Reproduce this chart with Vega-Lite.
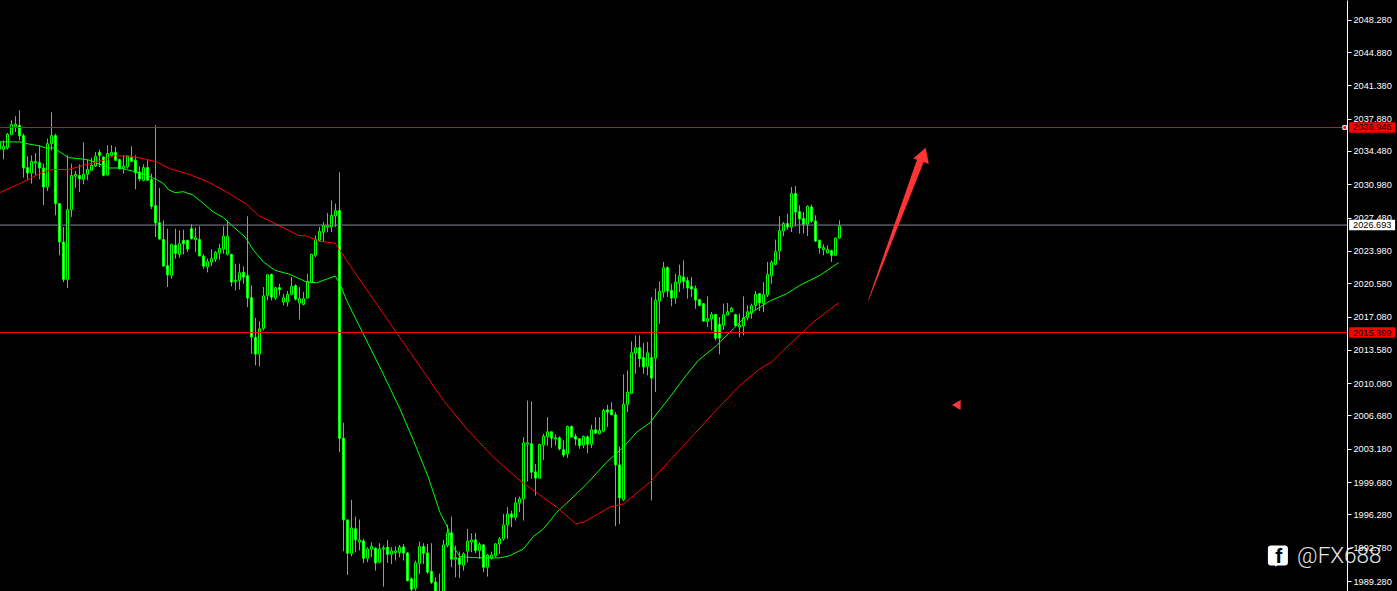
{"$schema":"https://vega.github.io/schema/vega-lite/v6.json","width":1397,"height":591,"autosize":"none","padding":0,"background":"#000000","config":{"view":{"stroke":null}},
"datasets":{
"candles":[
{"t":-1,"o":2034.66,"h":2035.60,"l":2034.55,"c":2035.43},
{"t":0,"o":2034.66,"h":2035.60,"l":2033.60,"c":2034.97},
{"t":1,"o":2034.80,"h":2036.37,"l":2034.62,"c":2036.23},
{"t":2,"o":2036.20,"h":2037.71,"l":2036.13,"c":2037.25},
{"t":3,"o":2037.08,"h":2038.13,"l":2036.48,"c":2037.29},
{"t":4,"o":2037.15,"h":2038.76,"l":2035.60,"c":2036.06},
{"t":5,"o":2036.09,"h":2036.30,"l":2031.68,"c":2032.69},
{"t":6,"o":2032.73,"h":2033.92,"l":2031.40,"c":2032.17},
{"t":7,"o":2032.17,"h":2034.02,"l":2031.05,"c":2033.39},
{"t":8,"o":2033.22,"h":2034.27,"l":2031.92,"c":2033.39},
{"t":9,"o":2033.25,"h":2035.08,"l":2031.50,"c":2032.69},
{"t":10,"o":2032.69,"h":2033.15,"l":2028.77,"c":2030.69},
{"t":11,"o":2030.69,"h":2035.78,"l":2030.27,"c":2035.25},
{"t":12,"o":2035.25,"h":2038.55,"l":2034.55,"c":2036.09},
{"t":13,"o":2036.09,"h":2036.30,"l":2027.71,"c":2028.94},
{"t":14,"o":2028.94,"h":2029.01,"l":2023.51,"c":2024.91},
{"t":15,"o":2024.91,"h":2026.49,"l":2020.70,"c":2020.98},
{"t":16,"o":2020.98,"h":2034.02,"l":2020.07,"c":2028.31},
{"t":17,"o":2028.31,"h":2033.15,"l":2027.54,"c":2031.89},
{"t":18,"o":2031.82,"h":2032.38,"l":2030.62,"c":2032.03},
{"t":19,"o":2031.89,"h":2033.08,"l":2030.17,"c":2031.54},
{"t":20,"o":2031.50,"h":2035.39,"l":2030.97,"c":2032.03},
{"t":21,"o":2032.03,"h":2033.57,"l":2031.40,"c":2032.55},
{"t":22,"o":2032.45,"h":2033.78,"l":2032.38,"c":2032.97},
{"t":23,"o":2032.90,"h":2034.38,"l":2032.80,"c":2033.92},
{"t":24,"o":2034.34,"h":2034.62,"l":2032.80,"c":2034.02},
{"t":25,"o":2033.85,"h":2033.92,"l":2031.82,"c":2031.92},
{"t":26,"o":2031.96,"h":2035.08,"l":2031.89,"c":2034.20},
{"t":27,"o":2034.02,"h":2035.08,"l":2033.92,"c":2034.34},
{"t":28,"o":2034.34,"h":2034.90,"l":2033.50,"c":2033.50},
{"t":29,"o":2033.57,"h":2033.67,"l":2032.52,"c":2032.62},
{"t":30,"o":2032.66,"h":2034.02,"l":2032.10,"c":2032.87},
{"t":31,"o":2032.80,"h":2034.02,"l":2032.62,"c":2033.92},
{"t":32,"o":2033.78,"h":2034.97,"l":2033.32,"c":2033.39},
{"t":33,"o":2033.50,"h":2034.02,"l":2030.45,"c":2032.17},
{"t":34,"o":2032.27,"h":2032.87,"l":2031.29,"c":2031.54},
{"t":35,"o":2031.40,"h":2033.08,"l":2031.29,"c":2032.73},
{"t":36,"o":2032.73,"h":2033.50,"l":2031.40,"c":2031.40},
{"t":37,"o":2031.47,"h":2032.10,"l":2028.38,"c":2028.66},
{"t":38,"o":2028.73,"h":2037.18,"l":2025.44,"c":2026.91},
{"t":39,"o":2026.94,"h":2030.59,"l":2025.16,"c":2025.22},
{"t":40,"o":2025.16,"h":2027.19,"l":2022.35,"c":2022.38},
{"t":41,"o":2022.42,"h":2026.31,"l":2020.18,"c":2021.44},
{"t":42,"o":2021.40,"h":2024.73,"l":2021.05,"c":2024.66},
{"t":43,"o":2024.56,"h":2026.31,"l":2023.16,"c":2023.72},
{"t":44,"o":2023.61,"h":2026.14,"l":2023.26,"c":2024.73},
{"t":45,"o":2025.08,"h":2026.21,"l":2023.61,"c":2024.73},
{"t":46,"o":2025.08,"h":2025.16,"l":2023.86,"c":2024.17},
{"t":47,"o":2026.31,"h":2026.77,"l":2025.16,"c":2025.26},
{"t":48,"o":2025.16,"h":2026.42,"l":2023.86,"c":2025.37},
{"t":49,"o":2025.16,"h":2026.56,"l":2023.44,"c":2023.44},
{"t":50,"o":2023.44,"h":2023.61,"l":2022.10,"c":2022.38},
{"t":51,"o":2022.28,"h":2023.16,"l":2021.72,"c":2022.84},
{"t":52,"o":2022.81,"h":2024.14,"l":2022.38,"c":2023.16},
{"t":53,"o":2023.09,"h":2023.96,"l":2022.81,"c":2023.82},
{"t":54,"o":2023.75,"h":2024.73,"l":2023.05,"c":2024.24},
{"t":55,"o":2024.17,"h":2026.56,"l":2023.68,"c":2025.51},
{"t":56,"o":2023.61,"h":2027.19,"l":2023.51,"c":2025.51},
{"t":57,"o":2023.61,"h":2023.68,"l":2020.25,"c":2020.70},
{"t":58,"o":2020.74,"h":2022.63,"l":2019.83,"c":2020.88},
{"t":59,"o":2020.88,"h":2022.63,"l":2019.90,"c":2021.68},
{"t":60,"o":2021.72,"h":2022.35,"l":2020.53,"c":2021.23},
{"t":61,"o":2021.37,"h":2027.61,"l":2018.07,"c":2019.02},
{"t":62,"o":2019.05,"h":2020.35,"l":2013.16,"c":2014.92},
{"t":63,"o":2014.88,"h":2016.95,"l":2011.94,"c":2013.13},
{"t":64,"o":2013.13,"h":2016.60,"l":2011.83,"c":2015.79},
{"t":65,"o":2015.83,"h":2020.18,"l":2015.62,"c":2019.26},
{"t":66,"o":2019.30,"h":2021.51,"l":2018.77,"c":2021.47},
{"t":67,"o":2021.51,"h":2021.58,"l":2018.77,"c":2019.12},
{"t":68,"o":2019.02,"h":2020.18,"l":2018.84,"c":2020.11},
{"t":69,"o":2020.11,"h":2020.53,"l":2019.30,"c":2019.90},
{"t":70,"o":2018.60,"h":2019.47,"l":2018.25,"c":2019.05},
{"t":71,"o":2018.60,"h":2019.76,"l":2018.14,"c":2019.40},
{"t":72,"o":2019.40,"h":2021.23,"l":2019.30,"c":2020.25},
{"t":73,"o":2020.32,"h":2020.46,"l":2018.77,"c":2018.91},
{"t":74,"o":2018.49,"h":2020.18,"l":2016.77,"c":2018.95},
{"t":75,"o":2018.35,"h":2019.65,"l":2018.25,"c":2018.95},
{"t":76,"o":2019.02,"h":2021.58,"l":2018.95,"c":2020.77},
{"t":77,"o":2020.67,"h":2023.68,"l":2020.60,"c":2023.61},
{"t":78,"o":2023.51,"h":2025.61,"l":2023.33,"c":2025.19},
{"t":79,"o":2025.08,"h":2026.49,"l":2024.91,"c":2026.03},
{"t":80,"o":2025.93,"h":2027.01,"l":2024.91,"c":2026.63},
{"t":81,"o":2026.49,"h":2027.96,"l":2025.93,"c":2026.63},
{"t":82,"o":2026.49,"h":2029.29,"l":2025.96,"c":2027.71},
{"t":83,"o":2027.64,"h":2028.94,"l":2026.49,"c":2028.21},
{"t":84,"o":2028.21,"h":2032.24,"l":2002.82,"c":2004.29},
{"t":85,"o":2004.29,"h":2005.91,"l":1992.41,"c":1995.70},
{"t":86,"o":1995.70,"h":1995.72,"l":1989.92,"c":1992.20},
{"t":87,"o":1992.16,"h":1997.81,"l":1991.88,"c":1994.86},
{"t":88,"o":1994.76,"h":1996.05,"l":1992.30,"c":1993.60},
{"t":89,"o":1993.39,"h":1995.74,"l":1992.48,"c":1993.60},
{"t":90,"o":1993.49,"h":1993.70,"l":1991.14,"c":1991.67},
{"t":91,"o":1991.67,"h":1992.83,"l":1991.25,"c":1992.65},
{"t":92,"o":1992.62,"h":1993.35,"l":1991.77,"c":1992.93},
{"t":93,"o":1992.72,"h":1992.83,"l":1990.37,"c":1991.18},
{"t":94,"o":1991.25,"h":1993.25,"l":1991.14,"c":1992.65},
{"t":95,"o":1992.65,"h":1993.00,"l":1988.69,"c":1992.76},
{"t":96,"o":1992.83,"h":1993.60,"l":1991.18,"c":1992.09},
{"t":97,"o":1992.09,"h":1992.83,"l":1991.07,"c":1992.44},
{"t":98,"o":1992.27,"h":1992.93,"l":1991.43,"c":1992.44},
{"t":99,"o":1992.27,"h":1993.07,"l":1991.77,"c":1992.83},
{"t":100,"o":1992.86,"h":1993.18,"l":1991.43,"c":1992.23},
{"t":101,"o":1992.23,"h":1992.30,"l":1989.22,"c":1989.32},
{"t":102,"o":1989.50,"h":1989.67,"l":1988.00,"c":1988.41},
{"t":103,"o":1988.52,"h":1991.42,"l":1988.27,"c":1991.18},
{"t":104,"o":1991.14,"h":1993.42,"l":1990.02,"c":1992.90},
{"t":105,"o":1992.90,"h":1993.25,"l":1991.07,"c":1992.20},
{"t":106,"o":1992.23,"h":1993.18,"l":1990.02,"c":1990.23},
{"t":107,"o":1990.27,"h":1993.25,"l":1988.97,"c":1989.15},
{"t":108,"o":1989.18,"h":1989.67,"l":1987.00,"c":1987.50},
{"t":109,"o":1987.50,"h":1990.06,"l":1987.00,"c":1987.60},
{"t":110,"o":1987.50,"h":1993.60,"l":1987.00,"c":1993.07},
{"t":111,"o":1993.04,"h":1995.21,"l":1992.83,"c":1994.34},
{"t":112,"o":1994.34,"h":1996.05,"l":1990.73,"c":1991.57},
{"t":113,"o":1991.57,"h":1993.00,"l":1989.67,"c":1991.74},
{"t":114,"o":1991.71,"h":1992.37,"l":1989.60,"c":1991.04},
{"t":115,"o":1990.93,"h":1992.30,"l":1990.37,"c":1992.13},
{"t":116,"o":1992.41,"h":1994.76,"l":1991.25,"c":1993.46},
{"t":117,"o":1993.39,"h":1994.30,"l":1992.30,"c":1993.60},
{"t":118,"o":1993.60,"h":1994.34,"l":1992.20,"c":1992.48},
{"t":119,"o":1992.48,"h":1993.35,"l":1991.60,"c":1993.11},
{"t":120,"o":1993.07,"h":1993.18,"l":1990.20,"c":1990.73},
{"t":121,"o":1990.73,"h":1992.13,"l":1989.74,"c":1992.02},
{"t":122,"o":1991.67,"h":1992.37,"l":1991.53,"c":1992.02},
{"t":123,"o":1991.92,"h":1993.25,"l":1991.77,"c":1993.18},
{"t":124,"o":1993.18,"h":1993.88,"l":1992.13,"c":1993.70},
{"t":125,"o":1993.70,"h":1996.33,"l":1993.53,"c":1995.18},
{"t":126,"o":1995.18,"h":1997.04,"l":1993.70,"c":1996.33},
{"t":127,"o":1996.33,"h":1996.68,"l":1994.93,"c":1995.98},
{"t":128,"o":1995.95,"h":1998.09,"l":1995.63,"c":1997.49},
{"t":129,"o":1997.46,"h":1998.16,"l":1996.51,"c":1997.91},
{"t":130,"o":1997.91,"h":2004.40,"l":1995.63,"c":2003.80},
{"t":131,"o":2003.66,"h":2008.25,"l":1999.73,"c":2003.80},
{"t":132,"o":2003.70,"h":2008.15,"l":2000.02,"c":2000.72},
{"t":133,"o":2000.75,"h":2001.59,"l":1998.26,"c":2000.09},
{"t":134,"o":2000.09,"h":2003.70,"l":2000.02,"c":2003.63},
{"t":135,"o":2003.56,"h":2004.75,"l":2002.01,"c":2004.47},
{"t":136,"o":2004.47,"h":2006.50,"l":2003.49,"c":2004.96},
{"t":137,"o":2004.96,"h":2004.98,"l":2003.28,"c":2004.29},
{"t":138,"o":2004.19,"h":2004.68,"l":2003.52,"c":2004.33},
{"t":139,"o":2004.33,"h":2004.47,"l":2003.00,"c":2003.17},
{"t":140,"o":2003.07,"h":2004.05,"l":2002.29,"c":2002.51},
{"t":141,"o":2002.64,"h":2005.62,"l":2002.22,"c":2005.52},
{"t":142,"o":2005.52,"h":2005.62,"l":2004.40,"c":2004.41},
{"t":143,"o":2004.47,"h":2004.75,"l":2003.52,"c":2004.19},
{"t":144,"o":2004.22,"h":2004.29,"l":2003.17,"c":2003.52},
{"t":145,"o":2003.56,"h":2004.57,"l":2003.24,"c":2004.47},
{"t":146,"o":2004.43,"h":2004.57,"l":2002.71,"c":2003.66},
{"t":147,"o":2003.66,"h":2005.70,"l":2003.24,"c":2005.17},
{"t":148,"o":2005.17,"h":2006.50,"l":2004.75,"c":2004.82},
{"t":149,"o":2004.78,"h":2006.50,"l":2004.68,"c":2005.10},
{"t":150,"o":2005.03,"h":2007.38,"l":2004.92,"c":2007.20},
{"t":151,"o":2007.27,"h":2007.80,"l":2005.45,"c":2007.03},
{"t":152,"o":2007.27,"h":2008.08,"l":2006.75,"c":2006.75},
{"t":153,"o":2006.75,"h":2007.03,"l":1995.04,"c":2001.49},
{"t":154,"o":2001.49,"h":2003.42,"l":1995.25,"c":1998.02},
{"t":155,"o":1997.81,"h":2010.99,"l":1997.67,"c":2007.83},
{"t":156,"o":2007.84,"h":2011.41,"l":2007.03,"c":2009.13},
{"t":157,"o":2009.03,"h":2014.46,"l":2008.96,"c":2013.27},
{"t":158,"o":2013.24,"h":2015.10,"l":2011.06,"c":2013.80},
{"t":159,"o":2013.80,"h":2015.10,"l":2011.76,"c":2012.64},
{"t":160,"o":2012.75,"h":2014.29,"l":2011.06,"c":2011.76},
{"t":161,"o":2011.83,"h":2014.39,"l":2010.89,"c":2013.27},
{"t":162,"o":2012.75,"h":2019.13,"l":1997.74,"c":2010.61},
{"t":163,"o":2012.71,"h":2020.00,"l":2009.13,"c":2018.78},
{"t":164,"o":2018.71,"h":2020.77,"l":2016.32,"c":2019.72},
{"t":165,"o":2019.65,"h":2022.81,"l":2019.06,"c":2022.21},
{"t":166,"o":2022.21,"h":2022.35,"l":2019.13,"c":2019.76},
{"t":167,"o":2019.83,"h":2020.53,"l":2018.15,"c":2019.02},
{"t":168,"o":2019.02,"h":2021.58,"l":2018.43,"c":2020.70},
{"t":169,"o":2020.60,"h":2022.53,"l":2019.65,"c":2021.37},
{"t":170,"o":2021.23,"h":2022.98,"l":2020.00,"c":2020.77},
{"t":171,"o":2020.84,"h":2021.23,"l":2018.95,"c":2020.07},
{"t":172,"o":2020.25,"h":2021.23,"l":2019.13,"c":2019.97},
{"t":173,"o":2020.00,"h":2020.35,"l":2017.90,"c":2018.81},
{"t":174,"o":2018.85,"h":2018.95,"l":2018.15,"c":2018.25},
{"t":175,"o":2018.43,"h":2018.50,"l":2016.57,"c":2016.60},
{"t":176,"o":2016.57,"h":2019.20,"l":2015.97,"c":2016.85},
{"t":177,"o":2016.81,"h":2017.55,"l":2015.62,"c":2017.30},
{"t":178,"o":2017.30,"h":2017.37,"l":2014.57,"c":2014.81},
{"t":179,"o":2016.25,"h":2017.02,"l":2013.10,"c":2014.81},
{"t":180,"o":2016.15,"h":2018.43,"l":2015.69,"c":2017.27},
{"t":181,"o":2017.23,"h":2018.50,"l":2017.20,"c":2017.58},
{"t":182,"o":2017.58,"h":2018.08,"l":2017.55,"c":2017.94},
{"t":183,"o":2017.27,"h":2017.37,"l":2015.97,"c":2016.15},
{"t":184,"o":2015.97,"h":2017.37,"l":2014.92,"c":2016.18},
{"t":185,"o":2016.08,"h":2019.20,"l":2015.10,"c":2016.92},
{"t":186,"o":2016.95,"h":2018.25,"l":2016.67,"c":2017.58},
{"t":187,"o":2017.44,"h":2018.43,"l":2016.85,"c":2018.22},
{"t":188,"o":2018.25,"h":2019.76,"l":2017.72,"c":2019.41},
{"t":189,"o":2019.48,"h":2019.55,"l":2017.65,"c":2018.50},
{"t":190,"o":2018.46,"h":2020.70,"l":2017.55,"c":2019.37},
{"t":191,"o":2019.34,"h":2022.81,"l":2019.13,"c":2021.48},
{"t":192,"o":2021.37,"h":2022.98,"l":2020.53,"c":2022.77},
{"t":193,"o":2022.56,"h":2025.16,"l":2022.46,"c":2023.90},
{"t":194,"o":2023.97,"h":2027.61,"l":2022.98,"c":2026.10},
{"t":195,"o":2026.07,"h":2027.02,"l":2025.51,"c":2026.84},
{"t":196,"o":2026.84,"h":2027.89,"l":2026.21,"c":2026.49},
{"t":197,"o":2026.49,"h":2030.70,"l":2025.96,"c":2030.00},
{"t":198,"o":2030.00,"h":2030.80,"l":2026.56,"c":2028.07},
{"t":199,"o":2028.10,"h":2028.77,"l":2025.79,"c":2027.33},
{"t":200,"o":2027.37,"h":2028.07,"l":2025.79,"c":2026.77},
{"t":201,"o":2026.77,"h":2028.77,"l":2025.54,"c":2028.66},
{"t":202,"o":2028.59,"h":2028.84,"l":2026.91,"c":2027.12},
{"t":203,"o":2027.12,"h":2027.72,"l":2024.91,"c":2025.02},
{"t":204,"o":2025.09,"h":2025.16,"l":2023.69,"c":2024.28},
{"t":205,"o":2024.11,"h":2024.67,"l":2023.51,"c":2024.32},
{"t":206,"o":2023.76,"h":2024.56,"l":2023.69,"c":2024.11},
{"t":207,"o":2024.00,"h":2024.11,"l":2022.81,"c":2023.51},
{"t":208,"o":2023.51,"h":2025.37,"l":2023.44,"c":2025.33},
{"t":209,"o":2025.33,"h":2027.19,"l":2025.26,"c":2026.60}
],
"greenMA":[{"t":-0.9,"p":2035.43},{"t":4.1,"p":2035.43},{"t":6.6,"p":2035.18},{"t":9.1,"p":2035.01},{"t":10.4,"p":2034.80},{"t":12.5,"p":2034.80},{"t":14.1,"p":2034.38},{"t":16.2,"p":2033.78},{"t":19.5,"p":2033.64},{"t":21.6,"p":2033.50},{"t":24.1,"p":2033.08},{"t":26.6,"p":2032.69},{"t":29.1,"p":2032.69},{"t":32.5,"p":2032.34},{"t":35.8,"p":2031.92},{"t":38.3,"p":2031.47},{"t":40,"p":2031.05},{"t":41.2,"p":2030.41},{"t":42.9,"p":2030.10},{"t":45,"p":2030.20},{"t":47.5,"p":2029.82},{"t":50,"p":2028.94},{"t":52.5,"p":2028.06},{"t":55,"p":2027.47},{"t":57.5,"p":2026.49},{"t":60.4,"p":2025.44},{"t":62.5,"p":2024.03},{"t":65,"p":2022.81},{"t":67.9,"p":2021.93},{"t":71.6,"p":2021.51},{"t":75.8,"p":2020.70},{"t":78.3,"p":2020.63},{"t":82.9,"p":2021.33},{"t":84.1,"p":2020.53},{"t":85.8,"p":2018.77},{"t":86.6,"p":2018.07},{"t":94.5,"p":2011.41},{"t":99.1,"p":2007.38},{"t":102.5,"p":2004.05},{"t":106.2,"p":2000.19},{"t":109.1,"p":1996.51},{"t":111,"p":1994.93},{"t":112.5,"p":1992.83},{"t":114.1,"p":1991.85},{"t":117.5,"p":1991.74},{"t":120,"p":1991.71},{"t":124.1,"p":1991.71},{"t":126.6,"p":1991.95},{"t":130,"p":1992.65},{"t":132.5,"p":1993.99},{"t":135,"p":1994.76},{"t":138.3,"p":1996.51},{"t":140.8,"p":1997.46},{"t":145.8,"p":1999.49},{"t":150.8,"p":2001.77},{"t":155,"p":2003.35},{"t":158.3,"p":2004.92},{"t":161.6,"p":2005.91},{"t":164.1,"p":2007.28},{"t":166.6,"p":2008.61},{"t":170,"p":2010.54},{"t":173.7,"p":2012.47},{"t":178.3,"p":2014.04},{"t":182.5,"p":2015.80},{"t":185.8,"p":2017.20},{"t":191.6,"p":2018.71},{"t":195.8,"p":2019.48},{"t":199.1,"p":2020.35},{"t":204.1,"p":2021.41},{"t":208.8,"p":2022.74}],
"redMA":[{"t":-0.9,"p":2030.10},{"t":4.1,"p":2031.05},{"t":9.1,"p":2032.10},{"t":12,"p":2032.52},{"t":16.2,"p":2032.52},{"t":20,"p":2032.97},{"t":25,"p":2033.50},{"t":27.5,"p":2033.96},{"t":31.2,"p":2033.96},{"t":35,"p":2033.67},{"t":38.3,"p":2033.32},{"t":41.6,"p":2032.62},{"t":46.6,"p":2031.99},{"t":51.2,"p":2031.22},{"t":55.8,"p":2030.17},{"t":60.8,"p":2028.87},{"t":63.7,"p":2027.71},{"t":69.1,"p":2026.59},{"t":73.7,"p":2025.61},{"t":75.8,"p":2025.54},{"t":79.1,"p":2024.98},{"t":82.9,"p":2024.80},{"t":84.1,"p":2024.03},{"t":86.6,"p":2022.46},{"t":104.8,"p":2011.41},{"t":110,"p":2008.25},{"t":115.8,"p":2005.27},{"t":122.5,"p":2002.29},{"t":129.1,"p":1999.84},{"t":138.3,"p":1997.04},{"t":143.1,"p":1995.28},{"t":145,"p":1995.46},{"t":151.6,"p":1997.04},{"t":155,"p":1997.39},{"t":161.6,"p":1999.66},{"t":178.3,"p":2007.28},{"t":184.1,"p":2009.84},{"t":189.1,"p":2011.59},{"t":192,"p":2012.29},{"t":194.5,"p":2013.34},{"t":202.5,"p":2016.50},{"t":208.8,"p":2018.53}],
"levels":[{"level":"upper","p":2036.946},{"level":"current","p":2026.693},{"level":"lower","p":2015.399}]
},
"resolve":{"axis":{"y":"independent","x":"independent"}},
"layer":[
{"data":{"name":"candles"},"mark":{"type":"rule","stroke":"#00ff00","strokeWidth":1,"clip":true},
"encoding":{"x":{"field":"t","type":"quantitative","scale":{"domain":[-0.875,348.375],"padding":0},"axis":null},
"y":{"field":"h","type":"quantitative","scale":{"domain":[1988.229,2050.347]},"axis":{"orient":"right","offset":-50,"title":null,"values":[2048.28,2044.88,2041.38,2037.88,2034.48,2030.98,2027.48,2023.98,2020.58,2017.08,2013.58,2010.08,2006.68,2003.18,1999.68,1996.28,1992.78,1989.28],"format":".3f","grid":false,"domainColor":"#ffffff","domainWidth":1,"tickColor":"#ffffff","tickSize":4,"tickWidth":1,"labelColor":"#ffffff","labelFont":"Liberation Sans","labelFontSize":9.2,"labelPadding":2,"labelOverlap":false,"labelFlush":false,"labelBound":false}},
"y2":{"field":"l"}}},
{"data":{"name":"candles"},"mark":{"type":"bar","orient":"vertical","size":2,"stroke":"#00ff00","strokeWidth":1,"clip":true},
"encoding":{"x":{"field":"t","type":"quantitative","scale":{"domain":[-0.875,348.375],"padding":0},"axis":null},"y":{"field":"o","type":"quantitative","scale":{"domain":[1988.229,2050.347]},"axis":null},"y2":{"field":"c"},"fill":{"condition":{"test":"datum.c<datum.o","value":"#ffffff"},"value":"#000000"}}},
{"data":{"name":"greenMA"},"mark":{"type":"line","stroke":"#00ff00","strokeWidth":1,"clip":true},"encoding":{"x":{"field":"t","type":"quantitative","scale":{"domain":[-0.875,348.375],"padding":0},"axis":null},"y":{"field":"p","type":"quantitative","scale":{"domain":[1988.229,2050.347]},"axis":null}}},
{"data":{"name":"redMA"},"mark":{"type":"line","stroke":"#ff0000","strokeWidth":1,"clip":true},"encoding":{"x":{"field":"t","type":"quantitative","scale":{"domain":[-0.875,348.375],"padding":0},"axis":null},"y":{"field":"p","type":"quantitative","scale":{"domain":[1988.229,2050.347]},"axis":null}}},
{"data":{"name":"levels"},"mark":{"type":"rule","strokeWidth":1},"encoding":{"x":{"datum":-0.875,"type":"quantitative","scale":{"domain":[-0.875,348.375],"padding":0},"axis":null},"x2":{"datum":335.9},"y":{"field":"p","type":"quantitative","scale":{"domain":[1988.229,2050.347]},"axis":null},"color":{"field":"level","type":"nominal","legend":null,"scale":{"domain":["upper","current","lower"],"range":["#ff0000","#808a96","#ff0000"]}}}},
{"data":{"name":"levels"},"mark":{"type":"rule","strokeWidth":10.5},"encoding":{"x":{"datum":336.4,"type":"quantitative","scale":{"domain":[-0.875,348.375],"padding":0},"axis":null},"x2":{"datum":347.9},"y":{"field":"p","type":"quantitative","scale":{"domain":[1988.229,2050.347]},"axis":null},"stroke":{"condition":{"test":"datum.level==='current'","value":"#ffffff"},"value":"#ff0000"}}},
{"data":{"name":"levels"},"mark":{"type":"text","align":"left","baseline":"middle","font":"Liberation Sans","fontSize":9.2,"fill":"#000000"},"encoding":{"x":{"datum":337.4,"type":"quantitative","scale":{"domain":[-0.875,348.375],"padding":0},"axis":null},"y":{"field":"p","type":"quantitative","scale":{"domain":[1988.229,2050.347]},"axis":null},"text":{"field":"p","type":"quantitative","format":".3f"}}},
{"data":{"values":[{"t":335.3,"p":2036.946}]},"mark":{"type":"square","size":14,"fill":"#ff0000","stroke":"#ffffff","strokeWidth":1,"opacity":1},"encoding":{"x":{"field":"t","type":"quantitative","scale":{"domain":[-0.875,348.375],"padding":0},"axis":null},"y":{"field":"p","type":"quantitative","scale":{"domain":[1988.229,2050.347]},"axis":null}}},
{"data":{"values":[{"t":216.2,"p":2018.78,"w":0.5},{"t":229.05,"p":2033.26,"w":7}]},"mark":{"type":"trail","fill":"#ff3535"},"encoding":{"x":{"field":"t","type":"quantitative","scale":{"domain":[-0.875,348.375],"padding":0},"axis":null},"y":{"field":"p","type":"quantitative","scale":{"domain":[1988.229,2050.347]},"axis":null},"size":{"field":"w","type":"quantitative","scale":null,"legend":null}}},
{"data":{"values":[{"t":229.97,"p":2034.11}]},"mark":{"type":"point","shape":"triangle-up","size":272,"angle":19,"filled":true,"fill":"#ff3535","opacity":1},"encoding":{"x":{"field":"t","type":"quantitative","scale":{"domain":[-0.875,348.375],"padding":0},"axis":null},"y":{"field":"p","type":"quantitative","scale":{"domain":[1988.229,2050.347]},"axis":null}}},
{"data":{"values":[{"t":238.2,"p":2007.77}]},"mark":{"type":"point","shape":"triangle-left","size":100,"filled":true,"fill":"#ff3535","opacity":1},"encoding":{"x":{"field":"t","type":"quantitative","scale":{"domain":[-0.875,348.375],"padding":0},"axis":null},"y":{"field":"p","type":"quantitative","scale":{"domain":[1988.229,2050.347]},"axis":null}}},
{"data":{"values":[{"t":318.6,"p":1991.96}]},"mark":{"type":"point","shape":"M-1,-0.7 Q-1,-1 -0.7,-1 L0.7,-1 Q1,-1 1,-0.7 L1,0.7 Q1,1 0.7,1 L0,1 L-0.3,1.1 L-0.3,1 L-0.7,1 Q-1,1 -1,0.7 Z","size":400,"filled":true,"fill":"#ffffff","opacity":1},"encoding":{"x":{"field":"t","type":"quantitative","scale":{"domain":[-0.875,348.375],"padding":0},"axis":null},"y":{"field":"p","type":"quantitative","scale":{"domain":[1988.229,2050.347]},"axis":null}}},
{"data":{"values":[{"t":318.8,"p":1991.8,"label":"f"}]},"mark":{"type":"text","align":"center","baseline":"middle","font":"Liberation Sans","fontWeight":"bold","fontSize":21,"fill":"#000000"},"encoding":{"x":{"field":"t","type":"quantitative","scale":{"domain":[-0.875,348.375],"padding":0},"axis":null},"y":{"field":"p","type":"quantitative","scale":{"domain":[1988.229,2050.347]},"axis":null},"text":{"field":"label"}}},
{"data":{"values":[{"t":323.4,"p":1991.96,"label":"@FX688"}]},"mark":{"type":"text","align":"left","baseline":"middle","font":"Roboto","fontWeight":300,"fontSize":22.5,"fill":"#ffffff","opacity":0.9},"encoding":{"x":{"field":"t","type":"quantitative","scale":{"domain":[-0.875,348.375],"padding":0},"axis":null},"y":{"field":"p","type":"quantitative","scale":{"domain":[1988.229,2050.347]},"axis":null},"text":{"field":"label"}}}
]}
